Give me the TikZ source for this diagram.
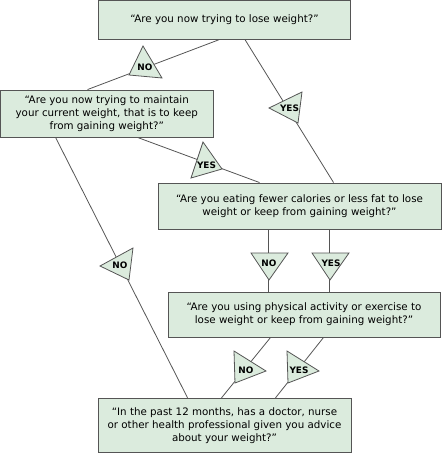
\documentclass[tikz,border=0pt]{standalone}
\usepackage{fontspec}
\setmainfont{DejaVu Sans}
\usetikzlibrary{calc}
\definecolor{boxfill}{RGB}{219,235,221}
\definecolor{edge}{RGB}{85,85,85}
\tikzset{
  box/.style={draw=edge, fill=boxfill, line width=0.9pt, rectangle, inner sep=0pt, align=center,
    font=\fontsize{10.3}{13}\selectfont},
  conn/.style={draw=edge, line width=0.8pt},
  tri/.style={draw=edge, fill=boxfill, line width=0.8pt, line join=miter},
  lbl/.style={font=\fontsize{8.9}{9}\selectfont\bfseries, inner sep=0pt}
}
\begin{document}
\begin{tikzpicture}[x=1pt,y=-1pt]
\useasboundingbox (0,0) rectangle (442,453);
% boxes
\node[box, minimum width=252pt, minimum height=38.5pt] (b1) at (224.5,20) {“Are you now trying to lose weight?”};
\node[box, minimum width=212.5pt, minimum height=47pt] (b2) at (106.75,113.5) {“Are you now trying to maintain\\your current weight, that is to keep\\from gaining weight?”};
\node[box, minimum width=283pt, minimum height=46pt] (b3) at (299.5,206) {“Are you eating fewer calories or less fat to lose\\weight or keep from gaining weight?”};
\node[box, minimum width=272pt, minimum height=45pt] (b4) at (304,314.5) {“Are you using physical activity or exercise to\\lose weight or keep from gaining weight?”};
\node[box, minimum width=253pt, minimum height=54pt] (b5) at (224.5,425.25) {“In the past 12 months, has a doctor, nurse\\or other health professional given you advice\\about your weight?”};
% connector end points on box borders
\coordinate (c1a) at ($(b1.south west)+(121,0)$);
\coordinate (c1b) at ($(b2.north west)+(87.5,0)$);
\coordinate (c2a) at ($(b1.south west)+(147,0)$);
\coordinate (c2b) at ($(b3.north west)+(176,0)$);
\coordinate (c3a) at ($(b2.south west)+(137.5,0)$);
\coordinate (c3b) at ($(b3.north west)+(102,0)$);
\coordinate (c4a) at ($(b2.south west)+(55.5,0)$);
\coordinate (c4b) at ($(b5.north west)+(90,0)$);
\coordinate (c5a) at ($(b3.south west)+(111,0)$);
\coordinate (c5b) at ($(b4.north west)+(101,0)$);
\coordinate (c6a) at ($(b3.south west)+(172,0)$);
\coordinate (c6b) at ($(b4.north west)+(162,0)$);
\coordinate (c7a) at ($(b4.south west)+(103,0)$);
\coordinate (c7b) at ($(b5.north west)+(124,0)$);
\coordinate (c8a) at ($(b4.south west)+(156,0)$);
\coordinate (c8b) at ($(b5.north west)+(178,0)$);
% connectors
\draw[conn] (c1a) -- (c1b);
\draw[conn] (c2a) -- (c2b);
\draw[conn] (c3a) -- (c3b);
\draw[conn] (c4a) -- (c4b);
\draw[conn] (c5a) -- (c5b);
\draw[conn] (c6a) -- (c6b);
\draw[conn] (c7a) -- (c7b);
\draw[conn] (c8a) -- (c8b);
% triangles
\draw[tri] (143,46) -- (129,75) -- (162,78) -- cycle;
\node[lbl] (t1) at (145,67.5) {NO};
\draw[tri] (302,92) -- (269,108) -- (298,123) -- cycle;
\node[lbl] (t2) at (289.5,108.5) {YES};
\draw[tri] (203,142) -- (191,178) -- (222,169) -- cycle;
\node[lbl] (t3) at (206.5,165) {YES};
\draw[tri] (133,248) -- (100,266) -- (129,280) -- cycle;
\node[lbl] (t4) at (120,265.5) {NO};
\draw[tri] (251,253) -- (288,253) -- (269,280) -- cycle;
\node[lbl] (t5) at (269,263) {NO};
\draw[tri] (312,253) -- (349,253) -- (330,280) -- cycle;
\node[lbl] (t6) at (331,263) {YES};
\draw[tri] (234,351) -- (266,371) -- (235,383) -- cycle;
\node[lbl] (t7) at (246,370) {NO};
\draw[tri] (287,351) -- (319,371) -- (288,383) -- cycle;
\node[lbl] (t8) at (299,370.5) {YES};
\end{tikzpicture}
\end{document}
